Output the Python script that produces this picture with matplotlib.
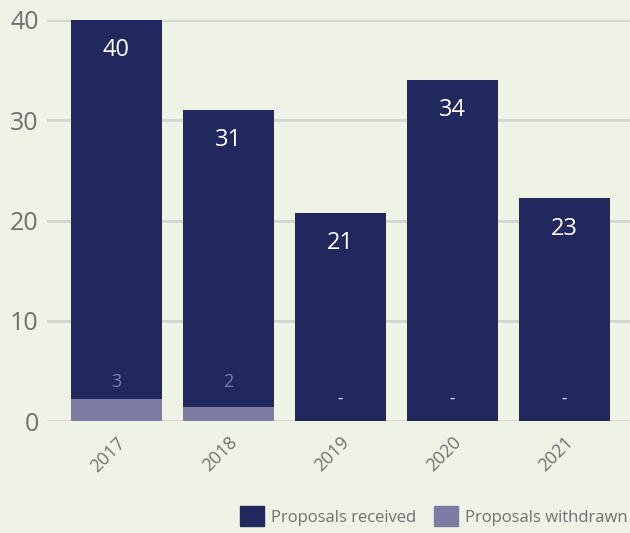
import matplotlib.pyplot as plt
from matplotlib.patches import Patch

plt.rcParams['font.family'] = ['Open Sans', 'DejaVu Sans']

# dados
anos = ["2017", "2018", "2019", "2020", "2021"]
recebidas = [40, 31, 20.75, 34, 22.2]
rotulos_recebidas = ["40", "31", "21", "34", "23"]
retiradas = [2.2, 1.4, 0, 0, 0]
rotulos_retiradas = ["3", "2", "-", "-", "-"]

fundo = "#eef3e5"
azul = "#22275d"
lilas = "#7d7da3"
cinza = "#707070"

fig = plt.figure(figsize=(6.3, 5.33), dpi=100, facecolor=fundo)
ax = fig.add_axes([0.0746, 0.21, 0.9254, 0.7525])
ax.set_facecolor(fundo)

x = range(len(anos))
ax.bar(x, recebidas, width=0.81, color=azul, zorder=2)
ax.bar(x, retiradas, width=0.81, color=lilas, zorder=3)

# rótulos das barras
for i in x:
    ax.text(i, recebidas[i] - 1.8, rotulos_recebidas[i], ha="center", va="top",
            color="white", fontsize=17, zorder=4)
    if retiradas[i] > 0:
        ax.text(i, 3.9, rotulos_retiradas[i], ha="center", va="center",
                color=lilas, fontsize=13, zorder=4)
    else:
        ax.text(i, 2.1, rotulos_retiradas[i], ha="center", va="center",
                color="white", fontsize=12, zorder=4)

ax.set_xlim(-0.62, 4.585)
ax.set_ylim(0, 40)
ax.set_yticks([0, 10, 20, 30, 40])
ax.yaxis.grid(True, color="#d3d6cf", linewidth=2, zorder=0)
ax.set_axisbelow(True)
ax.set_xticks(list(x))
ax.set_xticklabels(anos, rotation=45, ha="right", rotation_mode="anchor")
ax.tick_params(axis="y", length=0, labelsize=18, labelcolor=cinza, pad=6)
ax.tick_params(axis="x", length=0, labelsize=13, labelcolor=cinza, pad=9)
for s in ax.spines.values():
    s.set_visible(False)

handles = [Patch(color=azul, label="Proposals received"),
           Patch(color=lilas, label="Proposals withdrawn")]
fig.legend(handles=handles, loc="lower right", bbox_to_anchor=(1.02, -0.015), ncol=2,
           frameon=False, fontsize=12, labelcolor=cinza, handlelength=1.45,
           handleheight=1.45, handletextpad=0.4, columnspacing=1.1)

fig.savefig("out.png", dpi=100, facecolor=fundo)
